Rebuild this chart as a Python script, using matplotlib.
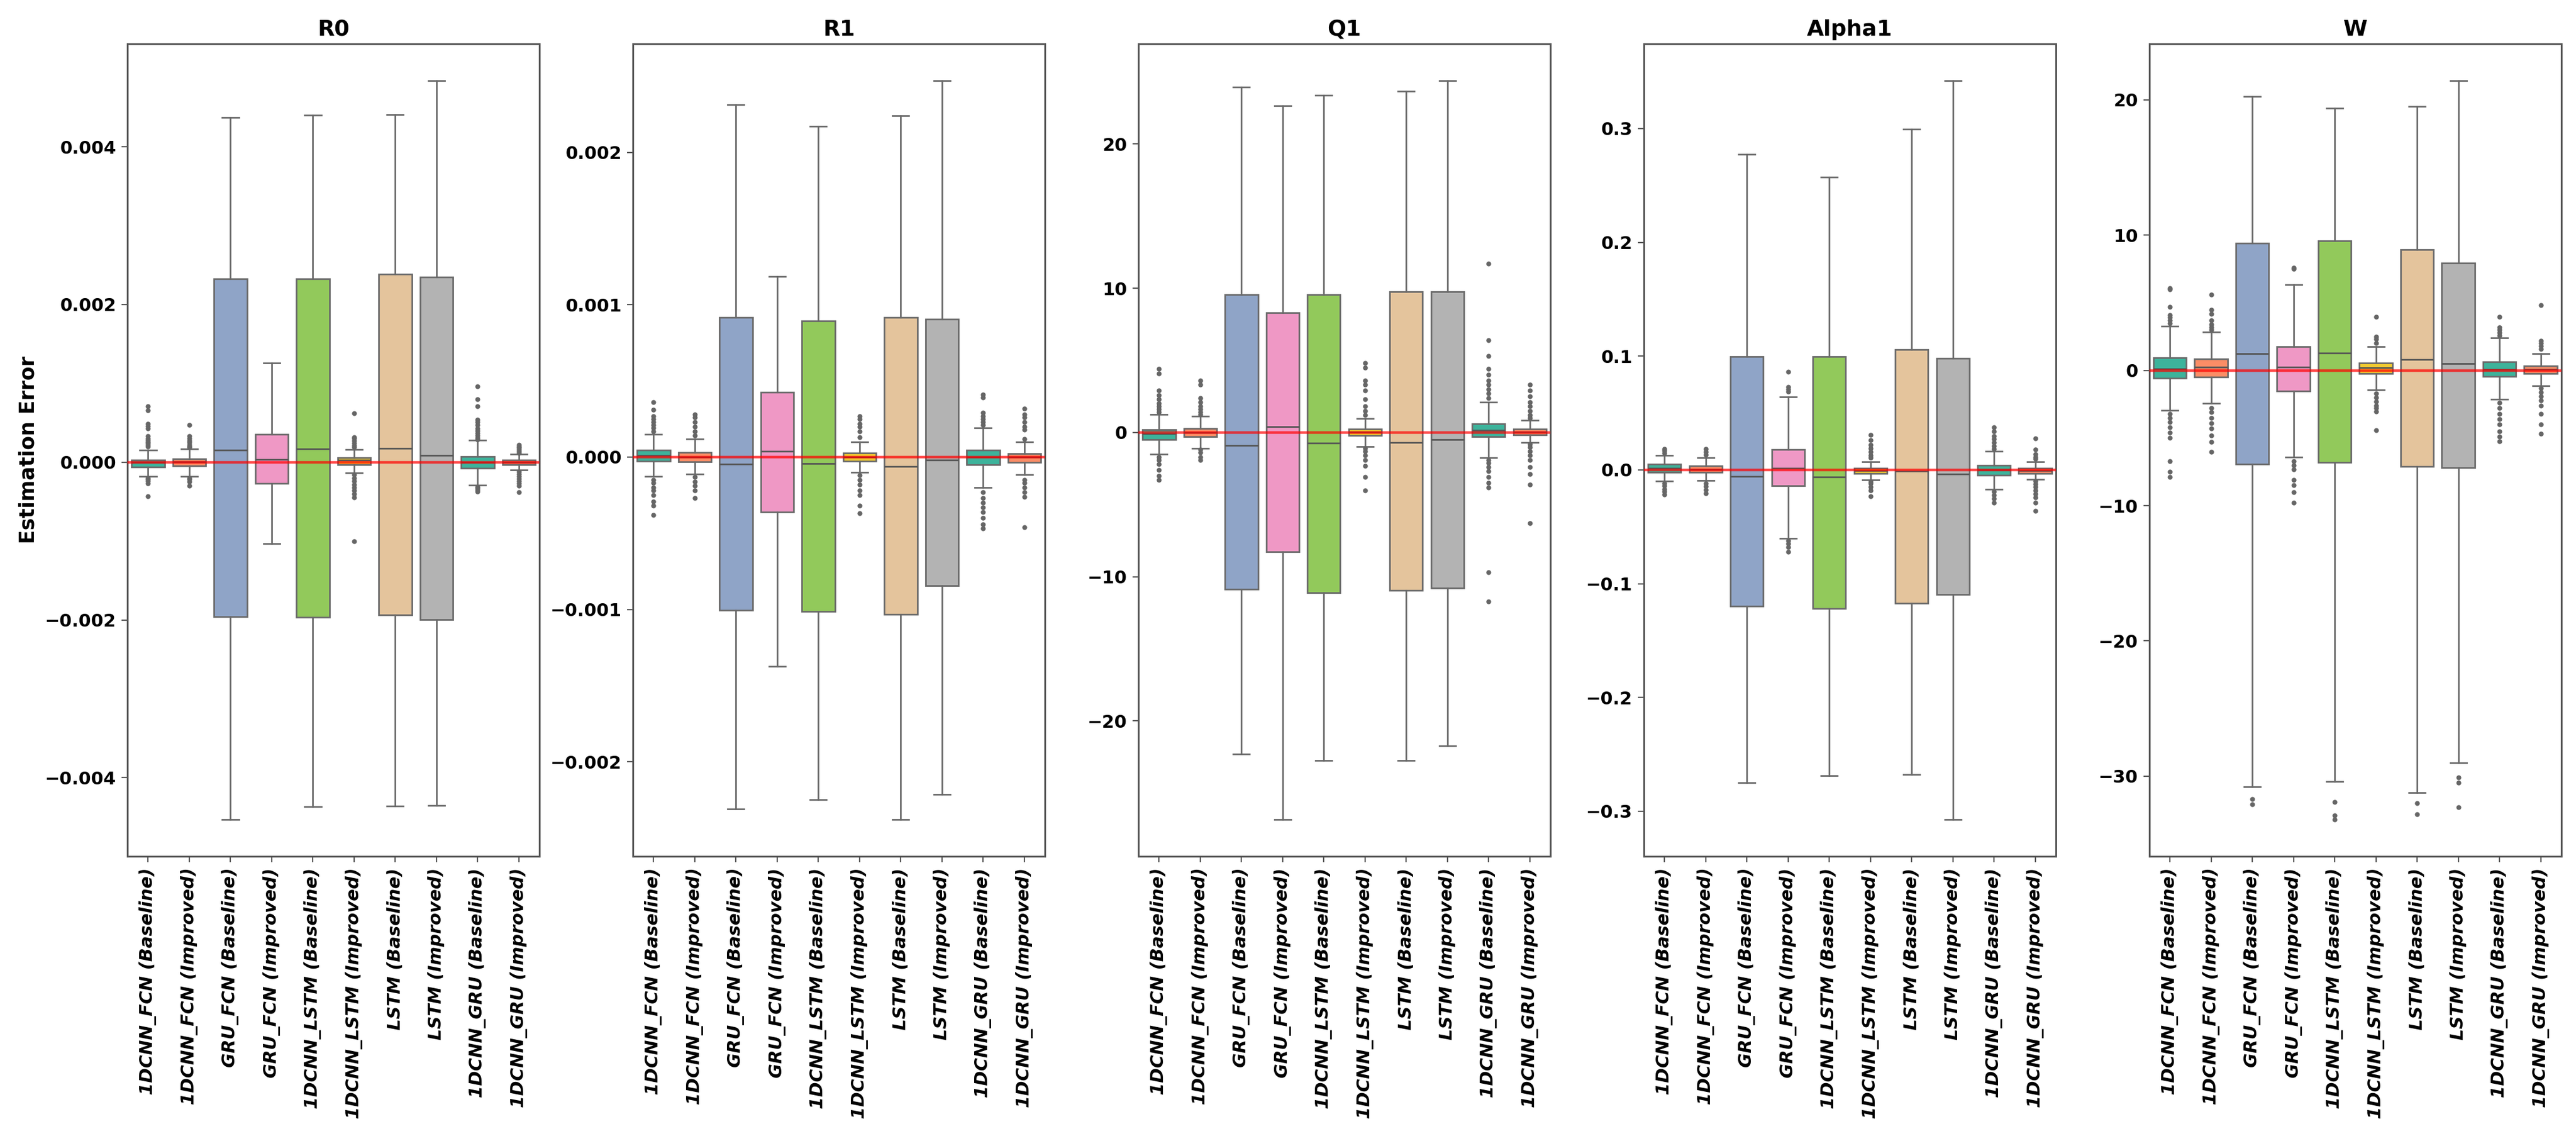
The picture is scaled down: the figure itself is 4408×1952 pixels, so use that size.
import matplotlib
matplotlib.use("Agg")
import matplotlib.pyplot as plt

# model order on every panel
models = ["1DCNN_FCN (Baseline)", "1DCNN_FCN (Improved)", "GRU_FCN (Baseline)",
          "GRU_FCN (Improved)", "1DCNN_LSTM (Baseline)", "1DCNN_LSTM (Improved)",
          "LSTM (Baseline)", "LSTM (Improved)", "1DCNN_GRU (Baseline)",
          "1DCNN_GRU (Improved)"]
palette = ["#3DB39B", "#FB8D66", "#8FA4C7", "#EF98C5", "#92C95B",
           "#F2CB30", "#E4C49C", "#B3B3B3", "#3DB39B", "#FB8D66"]
params = ["R0", "R1", "Q1", "Alpha1", "W"]

# ---- R0 ----
r0_q1 = [-0.000064, -0.00005, -0.001956, -0.000267, -0.00197, -0.000032, -0.00194, -0.001998, -0.000079, -0.00003]
r0_med = [-0.000005, 0.000005, 0.000153, 0.000038, 0.000166, 0.00003, 0.000179, 0.000089, 0.0, 0.0]
r0_q3 = [0.00003, 0.000042, 0.002328, 0.000357, 0.002328, 0.000057, 0.002383, 0.002349, 0.000069, 0.000025]
r0_lo = [-0.00018, -0.00018, -0.00453, -0.001036, -0.004367, -0.000136, -0.00436, -0.00435, -0.000289, -0.0001]
r0_hi = [0.000156, 0.00017, 0.004374, 0.00126, 0.0044, 0.00016, 0.004409, 0.004838, 0.000277, 0.0001]
r0_fliers = [
    [0.00071, 0.00066, 0.00049, 0.00046, 0.00043, 0.00033, 0.0003, 0.00028, 0.00026, 0.00024, 0.00022, 0.0002,
     -0.0002, -0.00022, -0.00024, -0.00027, -0.00043],
    [0.00047, 0.00033, 0.0003, 0.00027, 0.00025, 0.00022, 0.0002, 0.00019, -0.0002, -0.00022, -0.00025, -0.0003],
    [], [], [],
    [0.00062, 0.00032, 0.0003, 0.00027, 0.00024, 0.00021, 0.00019, -0.00016, -0.0002, -0.00024, -0.00028,
     -0.00032, -0.00036, -0.0004, -0.00045, -0.001],
    [], [],
    [0.00096, 0.0008, 0.00071, 0.00054, 0.00051, 0.00047, 0.00043, 0.0004, 0.00037, 0.00034, 0.00031, 0.00029,
     -0.00031, -0.00033, -0.00035, -0.00037],
    [0.00022, 0.0002, 0.00018, 0.00016, 0.00014, 0.00012, -0.00012, -0.00015, -0.00018, -0.00021, -0.00024,
     -0.00027, -0.0003, -0.00038],
]

# ---- R1 ----
r1_q1 = [-0.000026, -0.00003, -0.001005, -0.00036, -0.001013, -0.000026, -0.001031, -0.000844, -0.000051, -0.000033]
r1_med = [0.00001, 0.0, -0.000048, 0.00004, -0.000044, 0.0, -0.000062, -0.000018, 0.0, 0.0]
r1_q3 = [0.000044, 0.00003, 0.000917, 0.000426, 0.000895, 0.000026, 0.000917, 0.000906, 0.000044, 0.000022]
r1_lo = [-0.000128, -0.00011, -0.002308, -0.001372, -0.00225, -0.0001, -0.002378, -0.002213, -0.000198, -0.000114]
r1_hi = [0.00015, 0.000117, 0.002312, 0.001185, 0.002172, 0.0001, 0.002239, 0.00247, 0.00019, 0.0001]
r1_fliers = [
    [0.00036, 0.00031, 0.00027, 0.00025, 0.00023, 0.00021, 0.00019, 0.00017, -0.00015, -0.00017, -0.0002,
     -0.00022, -0.00025, -0.00029, -0.00032, -0.00038],
    [0.00028, 0.00026, 0.00023, 0.0002, 0.00017, 0.00014, -0.00013, -0.00016, -0.00019, -0.00022, -0.00027],
    [], [], [],
    [0.00027, 0.00025, 0.00022, 0.0002, 0.00017, 0.00013, -0.00012, -0.00015, -0.00018, -0.00022, -0.00025,
     -0.00032, -0.00037],
    [], [],
    [0.00041, 0.00039, 0.00029, 0.00027, 0.00025, 0.00023, 0.00021, -0.00023, -0.00027, -0.0003, -0.00033,
     -0.00036, -0.0004, -0.00044, -0.00047],
    [0.00032, 0.00028, 0.00026, 0.00023, 0.0002, 0.00018, 0.00012, -0.00015, -0.00017, -0.0002, -0.00023,
     -0.00026, -0.00046],
]

# ---- Q1 ----
q1_q1 = [-0.5, -0.27, -10.85, -8.26, -11.12, -0.19, -10.93, -10.78, -0.27, -0.16]
q1_med = [-0.08, 0.0, -0.89, 0.39, -0.74, 0.05, -0.7, -0.5, 0.15, 0.04]
q1_q3 = [0.19, 0.27, 9.57, 8.29, 9.57, 0.23, 9.77, 9.77, 0.62, 0.23]
q1_lo = [-1.51, -1.09, -22.29, -26.82, -22.75, -0.97, -22.75, -21.74, -1.74, -0.7]
q1_hi = [1.24, 1.12, 23.95, 22.64, 23.37, 0.97, 23.64, 24.38, 2.09, 0.85]
q1_fliers = [
    [4.4, 4.1, 2.9, 2.6, 2.3, 2.0, 1.8, 1.6, 1.4, -1.7, -1.9, -2.2, -2.6, -3.0, -3.3],
    [3.6, 3.3, 2.4, 2.1, 1.8, 1.6, 1.4, 1.25, -1.2, -1.4, -1.7, -1.9],
    [], [], [],
    [4.8, 4.5, 3.6, 3.3, 2.9, 2.3, 1.8, 1.5, 1.2, -1.1, -1.3, -1.6, -1.9, -2.3, -3.1, -4.0],
    [], [],
    [11.7, 6.4, 5.3, 4.4, 4.0, 3.6, 3.3, 3.0, 2.7, 2.4, -1.9, -2.1, -2.4, -2.7, -3.1, -3.5, -3.8, -9.7, -11.7],
    [3.3, 2.9, 2.5, 2.1, 1.8, 1.5, 1.2, 1.0, -0.8, -1.0, -1.3, -1.6, -1.9, -2.4, -2.9, -3.6, -6.3],
]

# ---- Alpha1 ----
a1_q1 = [-0.002, -0.002, -0.1199, -0.0138, -0.1219, -0.003, -0.117, -0.1096, -0.0044, -0.003]
a1_med = [0.0015, 0.0005, -0.0059, 0.0015, -0.0064, -0.0005, -0.001, -0.0034, 0.0, -0.0005]
a1_q3 = [0.0049, 0.0034, 0.0998, 0.0177, 0.0998, 0.0015, 0.1057, 0.0983, 0.0039, 0.0015]
a1_lo = [-0.0098, -0.0093, -0.2747, -0.06, -0.2688, -0.0088, -0.2678, -0.3071, -0.0172, -0.0084]
a1_hi = [0.0128, 0.0108, 0.2776, 0.0644, 0.2575, 0.0074, 0.2993, 0.342, 0.0162, 0.0074]
a1_fliers = [
    [0.0187, 0.017, 0.015, -0.012, -0.014, -0.017, -0.019, -0.0216],
    [0.0187, 0.016, 0.0135, -0.012, -0.0145, -0.0175, -0.0206],
    [],
    [0.0865, 0.073, 0.071, 0.069, -0.0624, -0.065, -0.068, -0.0722],
    [],
    [0.031, 0.026, 0.022, 0.019, 0.016, 0.013, 0.0105, -0.0103, -0.012, -0.015, -0.018, -0.0231],
    [], [],
    [0.0373, 0.034, 0.03, 0.027, 0.024, 0.021, 0.0185, -0.019, -0.022, -0.025, -0.029],
    [0.0275, 0.0177, 0.014, 0.0115, 0.0095, -0.01, -0.0125, -0.015, -0.018, -0.021, -0.024, -0.029, -0.036],
]

# ---- W ----
w_q1 = [-0.58, -0.5, -6.91, -1.53, -6.82, -0.21, -7.11, -7.2, -0.45, -0.21]
w_med = [0.12, 0.25, 1.24, 0.25, 1.28, 0.21, 0.79, 0.5, 0.08, 0.08]
w_q3 = [0.95, 0.83, 9.39, 1.74, 9.59, 0.54, 8.93, 7.94, 0.62, 0.33]
w_lo = [-2.94, -2.44, -30.77, -6.41, -30.4, -1.45, -31.22, -29.03, -2.15, -1.12]
w_hi = [3.27, 2.85, 20.26, 6.33, 19.4, 1.78, 19.52, 21.42, 2.4, 1.24]
w_fliers = [
    [6.1, 6.0, 4.7, 4.1, 3.9, 3.7, 3.5, -3.2, -3.5, -3.8, -4.2, -4.6, -5.0, -6.7, -7.5, -7.9],
    [5.6, 4.5, 4.2, 3.7, 3.4, 3.2, 3.0, -2.8, -3.1, -3.5, -3.9, -4.3, -4.8, -5.3, -6.0],
    [-31.7, -32.1],
    [7.6, 7.5, -6.7, -7.0, -7.3, -8.1, -8.5, -9.0, -9.8],
    [-31.9, -32.9, -33.2],
    [3.97, 2.5, 2.3, 2.0, -1.7, -2.0, -2.3, -2.6, -2.8, -3.06, -4.43],
    [-32.0, -32.8],
    [-30.1, -30.5, -32.3],
    [3.97, 3.2, 3.0, 2.8, 2.6, -2.4, -2.8, -3.2, -3.6, -4.0, -4.5, -4.9, -5.25],
    [4.84, 2.19, 2.0, 1.8, 1.57, -1.3, -1.6, -1.9, -2.2, -2.6, -3.2, -4.0, -4.7],
]

panels = [
    (r0_q1, r0_med, r0_q3, r0_lo, r0_hi, r0_fliers),
    (r1_q1, r1_med, r1_q3, r1_lo, r1_hi, r1_fliers),
    (q1_q1, q1_med, q1_q3, q1_lo, q1_hi, q1_fliers),
    (a1_q1, a1_med, a1_q3, a1_lo, a1_hi, a1_fliers),
    (w_q1, w_med, w_q3, w_lo, w_hi, w_fliers),
]

plt.rcParams["font.family"] = "DejaVu Sans"
plt.rcParams["font.weight"] = "bold"

fig, axes = plt.subplots(1, 5, figsize=(22.04, 9.76), dpi=200)
fig.subplots_adjust(left=0.0495, right=0.9943, top=0.9616, bottom=0.2495, wspace=0.227)

line_col = "#6a6a6a"
for ax, name, (q1, med, q3, lo, hi, fl) in zip(axes, params, panels):
    stats = []
    for i in range(len(models)):
        stats.append(dict(q1=q1[i], med=med[i], q3=q3[i], whislo=lo[i], whishi=hi[i],
                          fliers=fl[i], label=models[i]))
    bp = ax.bxp(stats, positions=range(len(models)), widths=0.8, patch_artist=True,
                boxprops=dict(edgecolor=line_col, linewidth=1.0),
                whiskerprops=dict(color=line_col, linewidth=1.0),
                capprops=dict(color=line_col, linewidth=1.0),
                medianprops=dict(color="#555555", linewidth=1.0),
                flierprops=dict(marker="o", markersize=2.0, markerfacecolor="#666666",
                                markeredgecolor="#666666", linestyle="none"))
    for patch, c in zip(bp["boxes"], palette):
        patch.set_facecolor(c)
    ax.axhline(0, color="red", linewidth=1.6, alpha=0.7, zorder=5)
    ax.set_xlim(-0.5, len(models) - 0.5)
    ax.set_title(name, fontsize=13.5, fontweight="bold", pad=5)
    ax.set_xticks(range(len(models)))
    ax.set_xticklabels(models, rotation=90, fontsize=11, fontweight="bold", style="italic")
    ax.tick_params(axis="y", labelsize=11, colors="black")
    ax.tick_params(color="#555555")
    for s in ax.spines.values():
        s.set_edgecolor("#555555")
        s.set_linewidth(1.1)

axes[0].set_ylabel("Estimation Error", fontsize=12.5, fontweight="bold")

fig.savefig("out.png", dpi=200)
